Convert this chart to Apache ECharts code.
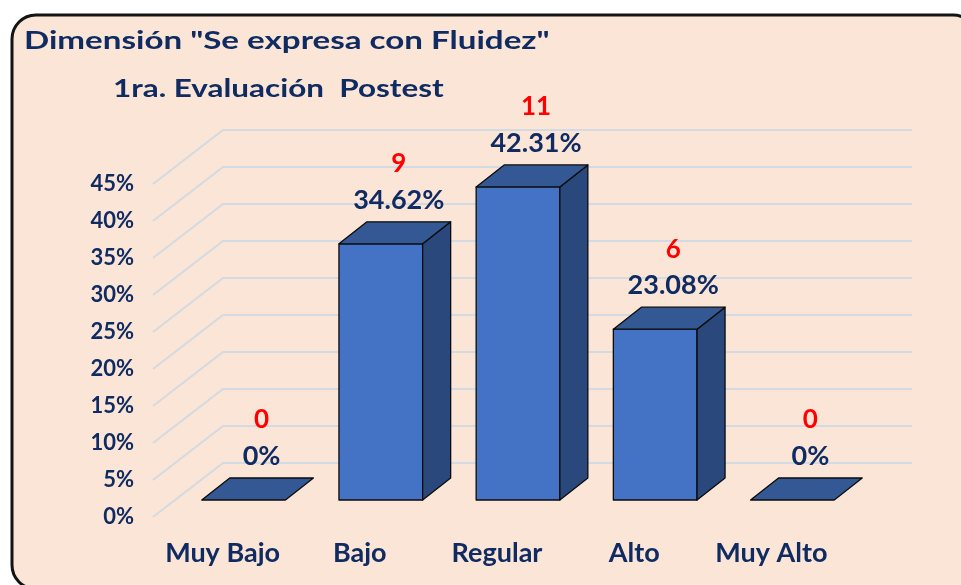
<!DOCTYPE html>
<html>
<head>
<meta charset="utf-8">
<script src="https://cdn.jsdelivr.net/npm/echarts@6/dist/echarts.min.js"></script>
<style>
  html, body { margin: 0; padding: 0; background: #ffffff; overflow: hidden; }
  #chart { width: 961px; height: 585px; }
</style>
</head>
<body>
<div id="chart"></div>
<script>
// ---- Data ----
const categories = ['Muy Bajo', 'Bajo', 'Regular', 'Alto', 'Muy Alto'];
const percentages = [0, 34.62, 42.31, 23.08, 0];
const counts = [0, 9, 11, 6, 0];
const percentLabels = ['0%', '34.62%', '42.31%', '23.08%', '0%'];
const tickValues = [0, 5, 10, 15, 20, 25, 30, 35, 40, 45];
const tickLabels = ['0%', '5%', '10%', '15%', '20%', '25%', '30%', '35%', '40%', '45%'];
const titleText = 'Dimensión "Se expresa con Fluidez"';
const subtitleText = '1ra. Evaluación  Postest';

// ---- Styles ----
const FONT = 'Lato';
const NAVY = '#0F2B62';
const FRONT = '#4472C4';
const TOPC = '#335894';
const SIDE = '#2A487C';
const GRIDC = '#D3DAE2';
const DEPTH_X = 28, DEPTH_Y = -22;      // bar depth
const BACK_X = 48, BACK_Y = -37;        // back wall offset from bar plane
const FRONT_X = -22, FRONT_Y = 17;      // front (label) plane offset

const chart = echarts.init(document.getElementById('chart'), null, { renderer: 'canvas' });

const option = {
  backgroundColor: '#ffffff',
  animation: false,
  graphic: [
    {
      type: 'rect', z: -10,
      shape: { x: 12, y: 15, width: 965, height: 574, r: 24 },
      style: { fill: '#FBE5D6', stroke: '#141414', lineWidth: 3 }
    },
    {
      type: 'text', z: 100, x: 24, y: 41, scaleX: 1.38,
      style: { text: titleText, x: 0, y: 0, verticalAlign: 'middle', font: 'bold 24px ' + FONT, fill: NAVY }
    },
    {
      type: 'text', z: 100, x: 113, y: 89, scaleX: 1.31,
      style: { text: subtitleText, x: 0, y: 0, verticalAlign: 'middle', font: 'bold 24px ' + FONT, fill: NAVY }
    }
  ],
  grid: { left: 175, right: 100, top: 130, bottom: 85 },
  xAxis: { type: 'category', data: categories, show: false },
  yAxis: { type: 'value', min: 0, max: 50, show: false },
  series: [
    {
      type: 'custom',
      name: 'grid',
      z: 1,
      silent: true,
      data: tickValues.map((v, i) => [v, i]),
      renderItem: function (params, api) {
        const v = api.value(0);
        const idx = api.value(1);
        const p = api.coord([0, v]);
        const band = api.size([1, 0])[0];
        const leftX = p[0] - band / 2;
        const rightX = leftX + band * categories.length;
        const y = p[1];
        const fx = leftX + FRONT_X, fy = y + FRONT_Y;
        const bx = leftX + BACK_X, by = y + BACK_Y;
        return {
          type: 'group',
          children: [
            { type: 'polyline', shape: { points: [[fx, fy], [bx, by], [rightX + BACK_X + 3, by]] },
              style: { stroke: GRIDC, lineWidth: 2, fill: null } },
            { type: 'text', style: { text: tickLabels[idx], x: fx - 19, y: fy, align: 'right', verticalAlign: 'middle',
              font: 'bold 22px ' + FONT, fill: NAVY } }
          ]
        };
      }
    },
    {
      type: 'custom',
      name: 'bars',
      z: 5,
      data: percentages.map((v, i) => [i, v]),
      renderItem: function (params, api) {
        const i = api.value(0);
        const v = api.value(1);
        const base = api.coord([i, 0]);
        const top = api.coord([i, v]);
        const band = api.size([1, 0])[0];
        const bw = band * 0.61;
        const x0 = base[0] - bw / 2, x1 = base[0] + bw / 2;
        const yb = base[1], yt = top[1];
        const edge = { stroke: '#0B0B0B', lineWidth: 1.3, lineJoin: 'round' };
        const children = [];
        if (yb - yt > 0.5) {
          children.push({ type: 'rect', shape: { x: x0, y: yt, width: bw, height: yb - yt },
            style: Object.assign({ fill: FRONT }, edge) });
          children.push({ type: 'polygon', shape: { points: [[x1, yt], [x1 + DEPTH_X, yt + DEPTH_Y], [x1 + DEPTH_X, yb + DEPTH_Y], [x1, yb]] },
            style: Object.assign({ fill: SIDE }, edge) });
        }
        children.push({ type: 'polygon', shape: { points: [[x0, yt], [x0 + DEPTH_X, yt + DEPTH_Y], [x1 + DEPTH_X, yt + DEPTH_Y], [x1, yt]] },
          style: Object.assign({ fill: TOPC }, edge) });
        const cx = base[0] + 18;
        children.push({ type: 'text', style: { text: percentLabels[i], x: cx, y: yt - 44, align: 'center', verticalAlign: 'middle',
          font: 'bold 27px ' + FONT, fill: NAVY } });
        children.push({ type: 'text', style: { text: String(counts[i]), x: cx, y: yt - 80, align: 'center', verticalAlign: 'middle',
          font: 'bold 26px ' + FONT, fill: '#FF0000' } });
        children.push({ type: 'text', style: { text: categories[i], x: base[0] + FRONT_X + 1, y: yb + 53, align: 'center', verticalAlign: 'middle',
          font: 'bold 27px ' + FONT, fill: NAVY } });
        return { type: 'group', children: children };
      }
    }
  ]
};
chart.setOption(option);
</script>
</body>
</html>
